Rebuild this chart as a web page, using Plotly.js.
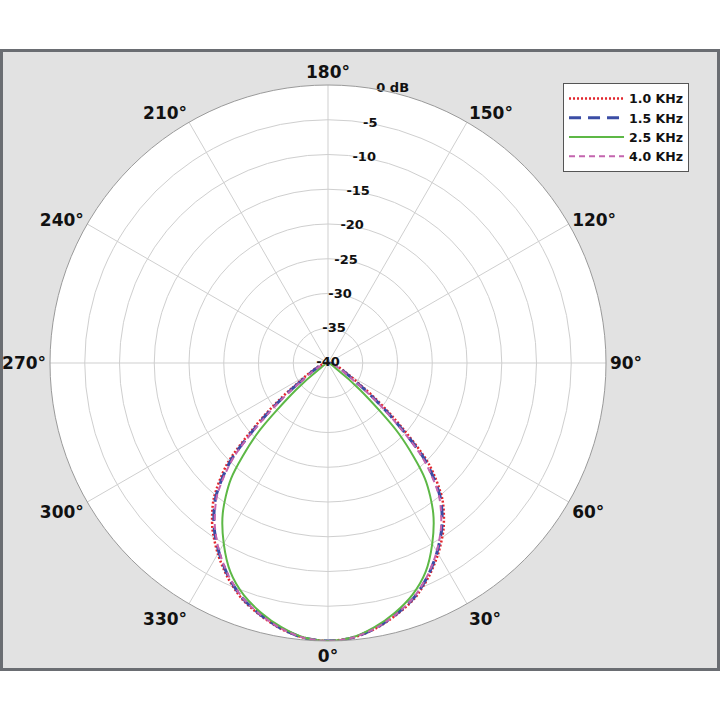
<!DOCTYPE html>
<html>
<head>
<meta charset="utf-8">
<script src="https://cdn.plot.ly/plotly-3.0.1.min.js"></script>
<style>
  body{margin:0;background:#fff;}
  #frame{position:absolute;left:0;top:49px;width:720px;height:622px;box-sizing:border-box;
         border:3px solid #6a6d72;background:#e2e2e2;}
  #chart{position:absolute;left:0;top:0;width:720px;height:720px;}
</style>
</head>
<body>
<div id="frame"></div>
<div id="chart"></div>
<script>
// angles (deg), 0 at bottom
const theta = [300,305,310,315,320,325,330,335,340,345,350,355,0,5,10,15,20,25,30,35,40,45,50,55,60]

// levels in dB
const khz10 = [-40,-33.6,-27.5,-19.5,-14.4,-11.0,-8.3,-5.9,-3.85,-2.4,-1.15,-0.3,0,-0.3,-1.15,-2.4,-3.85,-5.9,-8.3,-11.0,-14.4,-19.5,-27.5,-33.6,-40]
const khz15 = [-40,-34.5,-28.5,-20.3,-14.9,-11.4,-8.6,-6.1,-4.0,-2.5,-1.2,-0.3,0,-0.3,-1.2,-2.5,-4.0,-6.1,-8.6,-11.4,-14.9,-20.3,-28.5,-34.5,-40]
const khz25 = [-40,-38.5,-34,-25.5,-18.3,-13.6,-10.0,-6.8,-4.5,-2.8,-1.4,-0.35,0,-0.35,-1.4,-2.8,-4.5,-6.8,-10.0,-13.6,-18.3,-25.5,-34,-38.5,-40]
const khz40 = [-40,-35,-29,-20.8,-15.2,-11.6,-8.7,-6.2,-4.05,-2.5,-1.2,-0.3,0,-0.3,-1.2,-2.5,-4.05,-6.2,-8.7,-11.6,-15.2,-20.8,-29,-35,-40]

const seriesNames = ['1.0 KHz','1.5 KHz','2.5 KHz','4.0 KHz']

const angTicks = [0,30,60,90,120,150,180,210,240,270,300,330]
const angText = angTicks.map(a=>a+'°')
const radTicks = [-40,-35,-30,-25,-20,-15,-10,-5,0]
const radText = ['-40','-35','-30','-25','-20','-15','-10','-5','0 dB']

const font = 'DejaVu Sans, Verdana, sans-serif'

let mk = (r,name,color,dash,width)=>({
    type:'scatterpolar', mode:'lines', theta:theta, r:r, name:name,
    line:{color:color, dash:dash, width:width, shape:'spline', smoothing:0.8},
    hoverinfo:'skip'
})

let traces = [
    mk(khz10, seriesNames[0], '#e3262d', '2px,2px', 2.5),
    mk(khz15, seriesNames[1], '#3b4da5', '12px,7px', 3),
    mk(khz25, seriesNames[2], '#5db846', 'solid', 2),
    mk(khz40, seriesNames[3], '#c464ae', '6px,4px', 2)
]

// radial tick labels drawn along the 170 deg ray
traces.push({
    type:'scatterpolar', mode:'text',
    theta: radTicks.map(()=>170), r: radTicks, text: radText,
    textposition: radText.map((t,i)=> i==radText.length-1 ? 'middle right' : 'middle center'),
    textfont:{family:font, size:13, color:'#111', weight:'bold'},
    cliponaxis:false, showlegend:false, hoverinfo:'skip'
})

let layout = {
    width:720, height:720,
    margin:{l:50, r:114, t:85, b:79},
    paper_bgcolor:'rgba(0,0,0,0)',
    showlegend:true,
    legend:{
        x:0.9227, y:1.0036, xanchor:'left', yanchor:'top',
        bgcolor:'#fff', bordercolor:'#555', borderwidth:1,
        font:{family:font, size:12.5, color:'#111', weight:'bold'},
        itemwidth:55, tracegroupgap:0
    },
    polar:{
        bgcolor:'#fff',
        domain:{x:[0,1], y:[0,1]},
        angularaxis:{
            rotation:270, direction:'counterclockwise',
            tickmode:'array', tickvals:angTicks, ticktext:angText,
            tickfont:{family:font, size:17, color:'#111', weight:'bold'},
            showline:true, linecolor:'#9a9a9a', linewidth:1,
            gridcolor:'#cfcfcf', gridwidth:1, ticks:''
        },
        radialaxis:{
            range:[-40,0], tickmode:'array', tickvals:radTicks,
            showticklabels:false, ticks:'', showline:false,
            gridcolor:'#cfcfcf', gridwidth:1
        }
    }
}

Plotly.newPlot(document.getElementById('chart'), traces, layout, {displayModeBar:false, staticPlot:true})
</script>
</body>
</html>
